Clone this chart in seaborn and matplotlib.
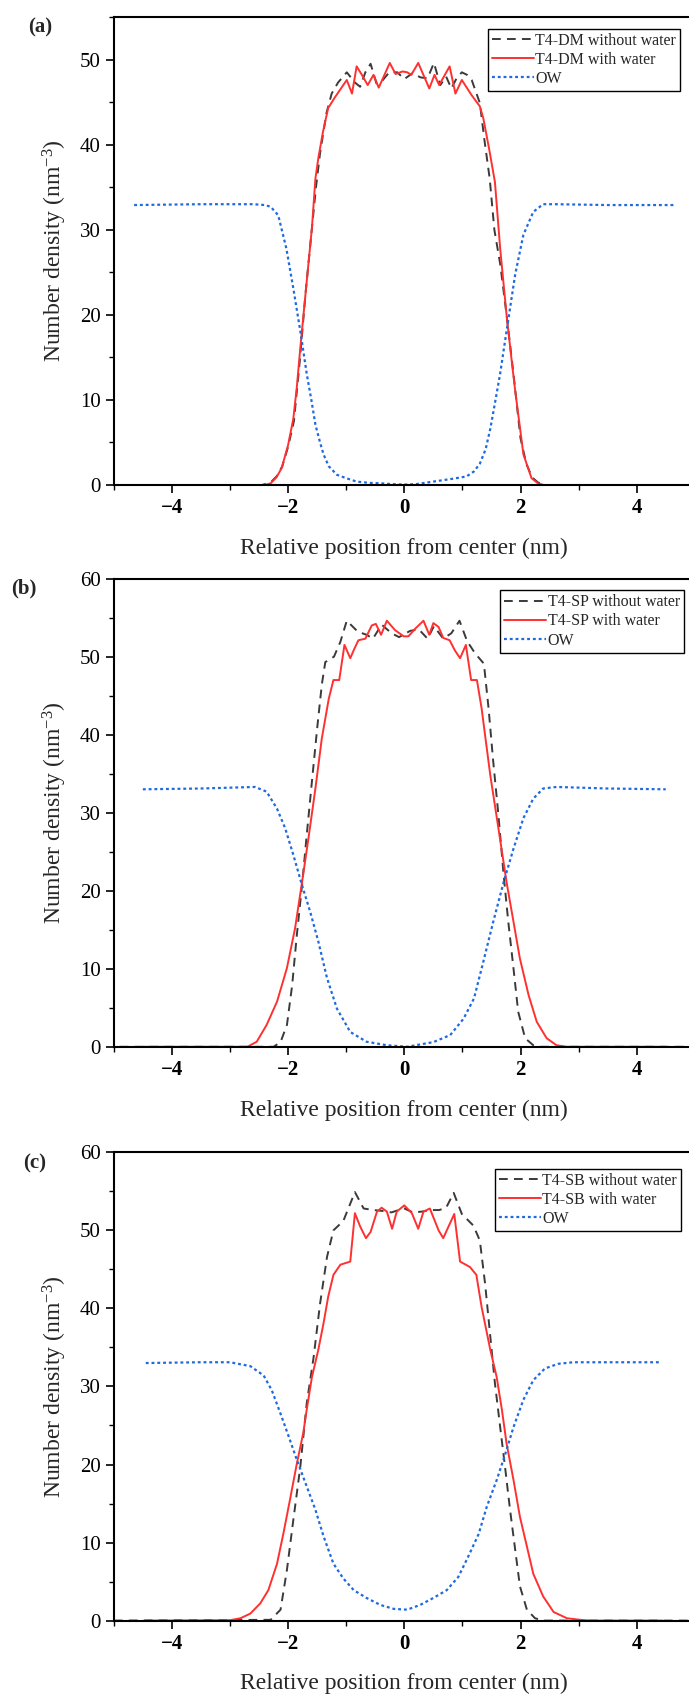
import numpy as np
import pandas as pd
import matplotlib
matplotlib.use("Agg")
import matplotlib.pyplot as plt
import seaborn as sns
from matplotlib.ticker import MultipleLocator

# ---- data ----
# panel (a) T4-DM
dm_dry_x = [-4.85, -2.45, -2.3, -2.2, -2.1, -2.0, -1.9, -1.8, -1.7, -1.6, -1.52, -1.45, -1.34, -1.25, -1.14,
            -0.99, -0.85, -0.76, -0.67, -0.58, -0.48, -0.38, -0.26, -0.12, 0.0, 0.14, 0.28, 0.40, 0.51, 0.62,
            0.72, 0.81, 0.90, 0.99, 1.08, 1.16, 1.30, 1.38, 1.47, 1.55, 1.65, 1.76, 1.88, 2.0, 2.1, 2.2, 2.3,
            2.45, 4.85]
dm_dry_y = [0, 0, 0.3, 1.0, 2.2, 4.5, 7.5, 14.5, 22.5, 29.5, 35.0, 39.0, 43.7, 46.0, 47.3,
            48.5, 47.3, 46.8, 48.5, 49.5, 47.2, 47.5, 48.5, 48.5, 47.7, 48.4, 47.9, 47.8, 49.6, 47.0,
            48.0, 46.6, 47.8, 48.5, 48.2, 47.6, 44.9, 40.5, 36.0, 30.0, 26.0, 20.0, 13.0, 5.5, 2.5, 0.9, 0.3,
            0, 0]
dm_wet_x = [-4.65, -2.4, -2.3, -2.2, -2.11, -2.0, -1.91, -1.85, -1.79, -1.68, -1.59, -1.53, -1.48, -1.4,
            -1.31, -1.2, -1.1, -0.99, -0.90, -0.82, -0.73, -0.63, -0.53, -0.44, -0.25, -0.15, -0.03, 0.05,
            0.12, 0.24, 0.43, 0.52, 0.60, 0.78, 0.88, 0.99, 1.16, 1.30, 1.36, 1.46, 1.56, 1.65, 1.76, 1.85,
            1.91, 2.05, 2.19, 2.3, 2.4, 4.65]
dm_wet_y = [0, 0, 0.2, 0.9, 2.0, 4.7, 7.8, 11.5, 16.1, 23.9, 30.2, 36.0, 38.4, 41.5,
            44.3, 45.5, 46.5, 47.6, 46.0, 49.2, 48.2, 47.0, 48.2, 46.7, 49.6, 48.3, 48.6, 48.5,
            48.2, 49.6, 46.6, 48.2, 47.0, 49.2, 46.0, 47.6, 45.8, 44.5, 43.1, 39.5, 35.6, 27.8, 20.0, 14.5,
            11.0, 3.6, 0.8, 0.2, 0, 0]
dm_ow_x = [-4.65, -3.5, -2.6, -2.4, -2.3, -2.17, -2.03, -1.91, -1.79, -1.68, -1.6, -1.53, -1.45, -1.39,
           -1.3, -1.16, -1.0, -0.82, -0.6, -0.41, -0.2, 0.0, 0.2, 0.5, 0.8, 1.07, 1.2, 1.3, 1.4, 1.48,
           1.57, 1.65, 1.76, 1.91, 2.05, 2.22, 2.39, 2.6, 3.5, 4.65]
dm_ow_y = [32.9, 33.0, 33.0, 32.9, 32.7, 31.7, 27.8, 23.1, 18.1, 13.1, 10.0, 7.1, 5.0, 3.6,
           2.2, 1.2, 0.8, 0.4, 0.25, 0.2, 0.1, 0.05, 0.1, 0.4, 0.7, 1.0, 1.6, 2.5, 4.2, 6.6,
           10.0, 13.1, 18.1, 24.8, 29.4, 32.1, 33.0, 33.0, 32.9, 32.9]

# panel (b) T4-SP
sp_dry_x = [-4.9, -2.25, -2.13, -2.02, -1.93, -1.85, -1.76, -1.68, -1.59, -1.50, -1.42, -1.36, -1.21, -1.10,
            -0.99, -0.80, -0.65, -0.54, -0.39, -0.22, -0.09, 0.10, 0.25, 0.40, 0.51, 0.67, 0.81, 0.95, 1.08,
            1.22, 1.37, 1.45, 1.53, 1.62, 1.71, 1.79, 1.88, 1.96, 2.08, 2.22, 2.35, 4.9]
sp_dry_y = [0, 0, 0.6, 2.8, 7.9, 14.3, 20.7, 27.1, 34.0, 40.8, 46.4, 49.3, 50.0, 51.9,
            54.6, 53.2, 52.8, 52.3, 54.1, 53.0, 52.5, 53.3, 53.5, 52.3, 53.9, 52.3, 53.0, 54.6, 52.0,
            50.4, 49.1, 43.4, 36.6, 29.7, 22.0, 16.0, 10.0, 4.5, 1.1, 0.2, 0, 0]
sp_wet_x = [-4.5, -2.7, -2.54, -2.37, -2.19, -2.02, -1.88, -1.76, -1.65, -1.53, -1.42, -1.30, -1.22, -1.12,
            -1.03, -0.93, -0.86, -0.79, -0.67, -0.56, -0.49, -0.40, -0.30, -0.16, -0.01, 0.07, 0.19, 0.33,
            0.43, 0.50, 0.59, 0.67, 0.78, 0.87, 0.96, 1.06, 1.15, 1.25, 1.33, 1.48, 1.62, 1.76, 1.88, 1.99,
            2.14, 2.28, 2.45, 2.62, 2.8, 4.5]
sp_wet_y = [0, 0, 0.65, 2.8, 5.8, 10.1, 15.2, 21.1, 26.7, 33.1, 39.5, 44.6, 47.0, 47.0,
            51.5, 49.8, 51.0, 52.1, 52.3, 54.0, 54.2, 52.8, 54.6, 53.4, 52.6, 52.6, 53.6, 54.6,
            52.8, 54.3, 53.8, 52.4, 52.1, 50.8, 49.8, 51.5, 47.0, 47.0, 43.4, 34.8, 28.0, 21.1, 16.0, 11.3,
            6.6, 3.2, 1.1, 0.2, 0, 0]
sp_ow_x = [-4.5, -3.5, -2.57, -2.37, -2.19, -2.05, -1.91, -1.76, -1.62, -1.48, -1.33, -1.16, -0.93, -0.65,
           -0.30, 0.05, 0.27, 0.50, 0.79, 1.02, 1.20, 1.36, 1.53, 1.71, 1.88, 2.05, 2.22, 2.39, 2.62, 3.5, 4.5]
sp_ow_y = [33.0, 33.1, 33.3, 32.7, 30.5, 28.0, 24.6, 20.7, 17.3, 13.5, 8.8, 4.9, 1.9, 0.65,
           0.2, 0.0, 0.3, 0.6, 1.5, 3.6, 6.2, 10.9, 16.0, 21.1, 25.4, 29.3, 31.8, 33.1, 33.3, 33.1, 33.0]

# panel (c) T4-SB
sb_dry_x = [-5.0, -2.3, -2.13, -2.02, -1.91, -1.79, -1.68, -1.56, -1.45, -1.33, -1.22, -1.05, -0.85, -0.70,
            -0.53, -0.39, -0.22, -0.10, 0.0, 0.15, 0.30, 0.45, 0.60, 0.72, 0.85, 0.99, 1.19, 1.30, 1.39,
            1.48, 1.56, 1.65, 1.74, 1.82, 1.91, 1.99, 2.11, 2.25, 2.4, 5.0]
sb_dry_y = [0, 0.1, 1.4, 6.5, 12.9, 19.7, 27.8, 33.8, 40.6, 46.6, 50.0, 51.2, 54.9, 52.8,
            52.6, 52.5, 52.3, 52.6, 52.8, 52.3, 52.4, 52.6, 52.6, 52.9, 54.8, 52.1, 50.6, 48.7, 43.2,
            36.4, 30.4, 24.8, 19.3, 14.2, 9.0, 4.4, 1.4, 0.3, 0, 0]
sb_wet_x = [-4.45, -3.0, -2.82, -2.65, -2.48, -2.34, -2.19, -2.08, -1.97, -1.85, -1.74, -1.68, -1.59, -1.48,
            -1.39, -1.31, -1.22, -1.10, -0.93, -0.85, -0.76, -0.66, -0.58, -0.47, -0.39, -0.30, -0.21,
            -0.13, 0.0, 0.13, 0.24, 0.33, 0.44, 0.59, 0.67, 0.86, 0.96, 1.13, 1.24, 1.33, 1.48, 1.59, 1.68,
            1.76, 1.88, 1.99, 2.11, 2.22, 2.39, 2.57, 2.80, 3.03, 3.2, 4.45]
sb_wet_y = [0, 0.05, 0.3, 0.9, 2.2, 3.9, 7.3, 11.2, 15.4, 20.1, 24.0, 27.0, 31.2, 34.7,
            38.1, 41.5, 44.3, 45.6, 46.0, 52.2, 50.5, 49.0, 49.8, 52.4, 52.9, 52.4, 50.2,
            52.4, 53.2, 52.2, 50.2, 52.4, 52.8, 50.0, 49.0, 52.1, 46.0, 45.3, 44.3, 40.2, 34.7, 31.2, 27.0,
            22.7, 18.0, 13.3, 9.5, 6.0, 3.1, 1.1, 0.3, 0.1, 0, 0]
sb_ow_x = [-4.45, -3.51, -3.0, -2.65, -2.42, -2.28, -2.13, -1.99, -1.85, -1.68, -1.53, -1.39, -1.22, -1.05,
           -0.87, -0.65, -0.41, -0.18, 0.05, 0.27, 0.50, 0.73, 0.93, 1.10, 1.28, 1.42, 1.59, 1.74, 1.88,
           2.05, 2.22, 2.42, 2.65, 2.91, 3.5, 4.42]
sb_ow_y = [33.0, 33.1, 33.1, 32.6, 31.4, 29.5, 26.5, 23.6, 20.6, 17.2, 14.2, 10.8, 7.3, 5.4,
           3.9, 2.9, 2.0, 1.5, 1.4, 2.0, 2.9, 3.9, 5.6, 8.2, 11.1, 14.6, 18.0, 21.4, 24.8,
           28.3, 30.8, 32.3, 32.9, 33.1, 33.1, 33.1]

panels = [
    ("(a)", "T4-DM", (dm_dry_x, dm_dry_y), (dm_wet_x, dm_wet_y), (dm_ow_x, dm_ow_y), 55),
    ("(b)", "T4-SP", (sp_dry_x, sp_dry_y), (sp_wet_x, sp_wet_y), (sp_ow_x, sp_ow_y), 60),
    ("(c)", "T4-SB", (sb_dry_x, sb_dry_y), (sb_wet_x, sb_wet_y), (sb_ow_x, sb_ow_y), 60),
]

# ---- style ----
sns.set_theme(style="ticks")
plt.rcParams["font.family"] = ["Liberation Serif", "DejaVu Serif"]
plt.rcParams["mathtext.fontset"] = "custom"
plt.rcParams["mathtext.rm"] = "Liberation Serif"
plt.rcParams["mathtext.it"] = "Liberation Serif:italic"
plt.rcParams["axes.unicode_minus"] = True

W, H = 689, 1695
fig = plt.figure(figsize=(W / 100, H / 100), dpi=100)

# axes boxes in pixels: (top, bottom)
boxes = [(17, 485), (578.6, 1046.8), (1152.3, 1620.6)]
label_pos = [(40, 27), (24, 588), (35, 1163)]
legend_anchor = [(0.975, 0.975), (0.981, 0.975), (0.976, 0.965)]
ax_left, ax_w = 113.8, 581.0

for (tag, name, dry, wet, ow, ytop), (top, bot), (lx, ly), anc in zip(panels, boxes, label_pos, legend_anchor):
    ax = fig.add_axes([ax_left / W, 1 - bot / H, ax_w / W, (bot - top) / H])

    sns.lineplot(x=dry[0], y=dry[1], ax=ax, color="#3a3a3a", lw=1.4,
                 linestyle=(0, (4.5, 3.2)), label=f"{name} without water", sort=False)
    sns.lineplot(x=wet[0], y=wet[1], ax=ax, color="#ff3030", lw=1.4,
                 label=f"{name} with water", sort=False)
    sns.lineplot(x=ow[0], y=ow[1], ax=ax, color="#1f6ae0", lw=1.6,
                 linestyle=(0, (1.3, 1.3)), label="OW", sort=False)

    ax.set_xlim(-5, 5)
    ax.set_ylim(0, ytop)
    ax.set_xticks([-4, -2, 0, 2, 4])
    ax.set_xticklabels(["\u22124", "\u22122", "0", "2", "4"], fontweight="bold")
    ax.xaxis.set_minor_locator(MultipleLocator(1))
    ax.yaxis.set_major_locator(MultipleLocator(10))
    ax.yaxis.set_minor_locator(MultipleLocator(5))
    ax.tick_params(which="major", direction="out", length=6, width=1.2, labelsize=15, colors="black")
    ax.tick_params(which="minor", direction="out", length=3.5, width=1.0, colors="black")
    for sp in ax.spines.values():
        sp.set_linewidth(1.5)
        sp.set_color("black")

    ax.set_xlabel("Relative position from center (nm)", fontsize=17, labelpad=14)
    ax.set_ylabel("Number density (nm$^{-3}$)", fontsize=17, labelpad=8)

    leg = ax.legend(loc="upper right", bbox_to_anchor=anc, borderaxespad=0, fontsize=11.5,
                    frameon=True, fancybox=False, framealpha=1, edgecolor="black",
                    handlelength=2.6, handletextpad=0.1, labelspacing=0.2, borderpad=0.25)
    leg.get_frame().set_linewidth(1.0)

    fig.text(lx / W, 1 - ly / H, tag, fontsize=15, fontweight="bold", ha="center", va="center")

fig.savefig("out.png", dpi=100)
